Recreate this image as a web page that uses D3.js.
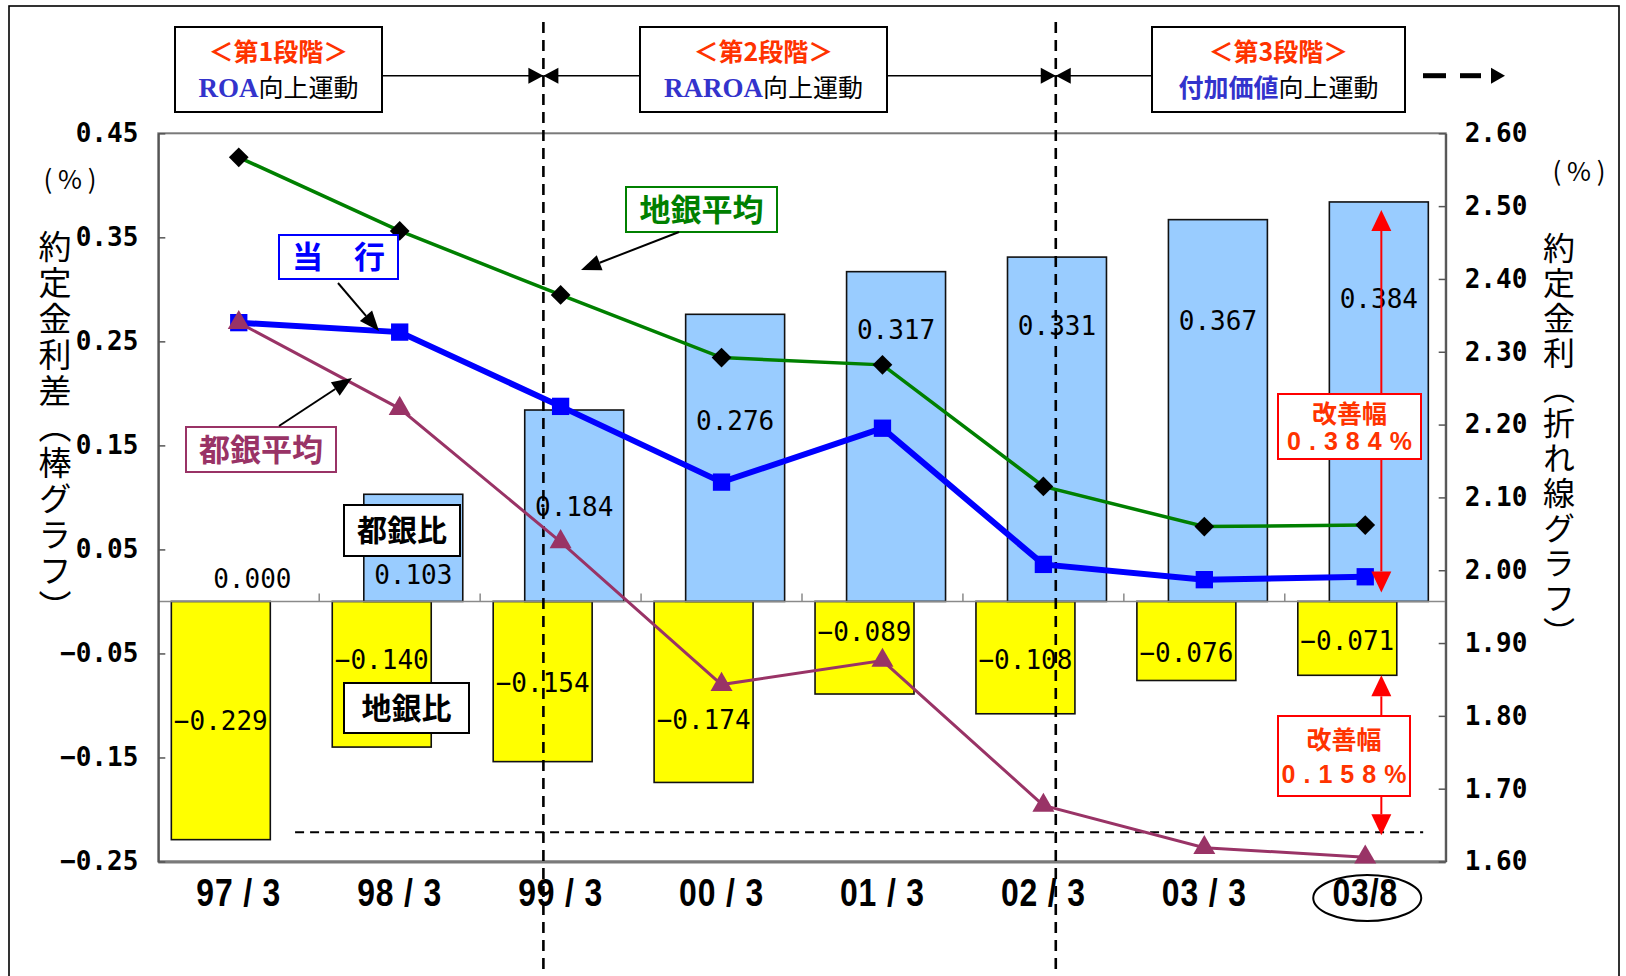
<!DOCTYPE html>
<html><head><meta charset="utf-8">
<script src="https://cdn.jsdelivr.net/npm/d3@7"></script>
<style>
html,body{margin:0;padding:0;background:#fff;}
svg{display:block;}
</style></head><body>
<svg id="chart" width="1626" height="976"></svg>
<script>
// Periods (fiscal year-end / month)
const categories = ["97 / 3","98 / 3","99 / 3","00 / 3","01 / 3","02 / 3","03 / 3","03/8"];
// Spread vs. city-bank average (都銀比) and regional-bank average (地銀比), %
const toginHi  = [0.000, 0.103, 0.184, 0.276, 0.317, 0.331, 0.367, 0.384];
const chiginHi = [-0.229, -0.140, -0.154, -0.174, -0.089, -0.108, -0.076, -0.071];
// Contract interest rates, %
const chiginAvg = [2.567, 2.466, 2.378, 2.292, 2.282, 2.115, 2.060, 2.062];
const touko     = [2.340, 2.327, 2.225, 2.121, 2.195, 2.008, 1.987, 1.991];
const toginAvg  = [2.340, 2.222, 2.039, 1.843, 1.876, 1.677, 1.619, 1.606];
// Axis ticks
const leftTicks  = [0.45, 0.35, 0.25, 0.15, 0.05, -0.05, -0.15, -0.25];
const rightTicks = [2.60, 2.50, 2.40, 2.30, 2.20, 2.10, 2.00, 1.90, 1.80, 1.70, 1.60];
// Where each bar's value label sits, on the left-axis scale
const toginLabelAt  = [0.022, 0.026, 0.091, 0.174, 0.261, 0.265, 0.270, 0.291];
const chiginLabelAt = [-0.115, -0.056, -0.078, -0.114, -0.029, -0.056, -0.049, -0.038];
// Stage headings
const stageTitles = ["＜第1段階＞", "＜第2段階＞", "＜第3段階＞"];
const stageKeys   = ["ROA", "RAROA", "付加価値"];
const stageTail   = "向上運動";

const CJK = "'Noto Sans CJK JP','Noto Sans CJK SC',sans-serif";
const MONO = "'DejaVu Sans Mono','Liberation Mono',monospace";
const NARROW = "'Liberation Sans Narrow','Arial Narrow','Liberation Sans',sans-serif";

const svg = d3.select("#chart");
svg.append("rect").attr("width", 1626).attr("height", 976).attr("fill", "#fff");
// outer frame
svg.append("rect").attr("x", 9).attr("y", 6).attr("width", 1610).attr("height", 1000)
  .attr("fill", "none").attr("stroke", "#000").attr("stroke-width", 1.6);

const plot = {left: 158.3, right: 1445.7, top: 133.3, bottom: 861.5};
const x = d3.scaleBand().domain(categories).range([plot.left, plot.right]).padding(0);
const bw = x.bandwidth();
const yL = d3.scaleLinear().domain([-0.25, 0.45]).range([plot.bottom, plot.top]);
const yR = d3.scaleLinear().domain([1.60, 2.60]).range([plot.bottom, plot.top]);
const cx = c => x(c) + bw / 2;

const barW = bw * 0.615;
const yellowOff = bw * 0.081, blueOff = bw * 0.277;

// plot border
svg.append("rect").attr("x", plot.left).attr("y", plot.top)
  .attr("width", plot.right - plot.left).attr("height", plot.bottom - plot.top)
  .attr("fill", "none").attr("stroke", "#7a7a7a").attr("stroke-width", 2);
svg.append("line").attr("x1", plot.left).attr("x2", plot.right)
  .attr("y1", plot.bottom + 0.5).attr("y2", plot.bottom + 0.5)
  .attr("stroke", "#7a7a7a").attr("stroke-width", 3);

// bars
const bars = svg.append("g");
bars.selectAll("rect.y").data(chiginHi).join("rect").attr("class", "y")
  .attr("x", (d, i) => x(categories[i]) + yellowOff)
  .attr("y", yL(0))
  .attr("width", barW)
  .attr("height", d => yL(d) - yL(0))
  .attr("fill", "#ffff00").attr("stroke", "#111").attr("stroke-width", 1.6);
bars.selectAll("rect.b").data(toginHi).join("rect").attr("class", "b")
  .attr("x", (d, i) => x(categories[i]) + blueOff)
  .attr("y", d => yL(d))
  .attr("width", barW)
  .attr("height", d => yL(0) - yL(d))
  .attr("fill", d => d > 0 ? "#99ccff" : "none")
  .attr("stroke", d => d > 0 ? "#111" : "none").attr("stroke-width", 1.6);

// zero line with category ticks
svg.append("line").attr("x1", plot.left).attr("x2", plot.right)
  .attr("y1", yL(0)).attr("y2", yL(0)).attr("stroke", "#8a8a8a").attr("stroke-width", 1.6);
svg.append("g").selectAll("line").data(categories.slice(1)).join("line")
  .attr("x1", d => x(d)).attr("x2", d => x(d))
  .attr("y1", yL(0)).attr("y2", yL(0) - 8)
  .attr("stroke", "#8a8a8a").attr("stroke-width", 1.5);

// left axis
const axL = svg.append("g").attr("transform", `translate(${plot.left},0)`)
  .call(d3.axisLeft(yL).tickValues(leftTicks).tickFormat(d3.format(".2f"))
    .tickSizeInner(-7).tickSizeOuter(0).tickPadding(20));
axL.select(".domain").attr("stroke", "#555").attr("stroke-width", 2);
axL.selectAll(".tick line").attr("stroke", "#555").attr("stroke-width", 1.5);
axL.selectAll(".tick text").attr("font-family", MONO).attr("font-weight", "bold")
  .attr("font-size", 26).attr("fill", "#000");

// right axis
const axR = svg.append("g").attr("transform", `translate(${plot.right},0)`)
  .call(d3.axisRight(yR).tickValues(rightTicks).tickFormat(d3.format(".2f"))
    .tickSizeInner(-7).tickSizeOuter(0).tickPadding(19));
axR.select(".domain").attr("stroke", "#555").attr("stroke-width", 2);
axR.selectAll(".tick line").attr("stroke", "#555").attr("stroke-width", 1.5);
axR.selectAll(".tick text").attr("font-family", MONO).attr("font-weight", "bold")
  .attr("font-size", 26).attr("fill", "#000");

// category labels (tall, condensed)
const axB = svg.append("g").attr("transform", `translate(0,${plot.bottom})`)
  .call(d3.axisBottom(x).tickSize(0).tickPadding(18));
axB.select(".domain").remove();
axB.selectAll(".tick text").attr("font-family", NARROW).attr("font-weight", "bold")
  .attr("font-size", 38).attr("letter-spacing", 1).attr("fill", "#000")
  .attr("transform", "scale(0.84,1)");
svg.append("ellipse").attr("cx", cx(categories[7]) + 2).attr("cy", 898)
  .attr("rx", 54).attr("ry", 23).attr("fill", "none").attr("stroke", "#000").attr("stroke-width", 2);

// bar value labels
svg.append("g").selectAll("text").data(toginHi).join("text")
  .attr("x", (d, i) => x(categories[i]) + blueOff + barW / 2)
  .attr("y", (d, i) => yL(toginLabelAt[i]))
  .attr("dy", "0.36em").attr("text-anchor", "middle")
  .attr("font-family", MONO).attr("font-size", 26).attr("fill", "#000")
  .text(d => d3.format(".3f")(d));
svg.append("g").selectAll("text").data(chiginHi).join("text")
  .attr("x", (d, i) => x(categories[i]) + yellowOff + barW / 2)
  .attr("y", (d, i) => yL(chiginLabelAt[i]))
  .attr("dy", "0.36em").attr("text-anchor", "middle")
  .attr("font-family", MONO).attr("font-size", 26).attr("fill", "#000")
  .text(d => d3.format(".3f")(d));

// bar legend boxes
function tagBox(x0, y0, w, h, text, color, size, fill) {
  svg.append("rect").attr("x", x0).attr("y", y0).attr("width", w).attr("height", h)
    .attr("fill", fill || "#fff").attr("stroke", color).attr("stroke-width", 2);
  svg.append("text").attr("x", x0 + w / 2).attr("y", y0 + h / 2).attr("dy", "0.36em")
    .attr("text-anchor", "middle").attr("font-family", CJK).attr("font-weight", "bold")
    .attr("font-size", size).attr("fill", color).text(text);
}
tagBox(344, 505, 116, 51, "都銀比", "#000", 30);
tagBox(344, 683, 125, 50, "地銀比", "#000", 30);

// stage dividers
const div1 = x(categories[2]) + bw * 0.393;
const div2 = x(categories[5]) + bw * 0.577;
svg.append("g").selectAll("line").data([div1, div2]).join("line")
  .attr("x1", d => d).attr("x2", d => d).attr("y1", 22).attr("y2", 976)
  .attr("stroke", "#000").attr("stroke-width", 2.6).attr("stroke-dasharray", "11,7");

// improvement reference (dashed) line
const refY = yL(-0.222);
svg.append("line").attr("x1", x(categories[0]) + bw * 0.85).attr("x2", x(categories[7]) + bw * 0.86)
  .attr("y1", refY).attr("y2", refY).attr("stroke", "#000").attr("stroke-width", 2)
  .attr("stroke-dasharray", "9,6");

// series lines
const line = d3.line().x((d, i) => cx(categories[i])).y(d => yR(d));
svg.append("path").datum(chiginAvg).attr("d", line).attr("fill", "none")
  .attr("stroke", "#008000").attr("stroke-width", 3.5);
svg.append("path").datum(toginAvg).attr("d", line).attr("fill", "none")
  .attr("stroke", "#993366").attr("stroke-width", 3);
svg.append("path").datum(touko).attr("d", line).attr("fill", "none")
  .attr("stroke", "#0000ff").attr("stroke-width", 6);

svg.append("g").selectAll("path").data(chiginAvg).join("path")
  .attr("d", d3.symbol(d3.symbolSquare, 195))
  .attr("transform", (d, i) => `translate(${cx(categories[i])},${yR(d)}) rotate(45)`)
  .attr("fill", "#000");
svg.append("g").selectAll("path").data(touko).join("path")
  .attr("d", d3.symbol(d3.symbolSquare, 300))
  .attr("transform", (d, i) => `translate(${cx(categories[i])},${yR(d)})`)
  .attr("fill", "#0000ff");
svg.append("g").selectAll("path").data(toginAvg).join("path")
  .attr("d", d3.symbol(d3.symbolTriangle, 210))
  .attr("transform", (d, i) => `translate(${cx(categories[i])},${yR(d)})`)
  .attr("fill", "#993366");

// arrow helper: line with a filled head at (x2,y2)
function arrow(x1, y1, x2, y2, color, len, wid, sw) {
  const a = Math.atan2(y2 - y1, x2 - x1);
  const bx = x2 - len * Math.cos(a), by = y2 - len * Math.sin(a);
  svg.append("line").attr("x1", x1).attr("y1", y1).attr("x2", bx).attr("y2", by)
    .attr("stroke", color).attr("stroke-width", sw);
  const px = Math.sin(a) * wid / 2, py = -Math.cos(a) * wid / 2;
  svg.append("path").attr("d", `M${x2},${y2}L${bx + px},${by + py}L${bx - px},${by - py}Z`)
    .attr("fill", color);
}

// series legend labels
tagBox(626, 187, 151, 45, "地銀平均", "#008000", 31);
arrow(679, 232, 581, 270, "#000", 20, 16, 2);
tagBox(279, 235, 119, 44, "当　行", "#0000ff", 31);
arrow(338, 283, 379, 331, "#000", 20, 16, 2);
tagBox(186, 427, 150, 45, "都銀平均", "#993366", 31);
arrow(279, 426, 352, 378, "#000", 20, 16, 2);

// improvement annotations
const ax = x(categories[7]) + bw * 0.6;
const RED = "#ff0000", ORANGE = "#ff3300";
function arrowLine(y1, y2) {
  arrow(ax, (y1 + y2) / 2, ax, y1, RED, 21, 20, 2);
  arrow(ax, (y1 + y2) / 2, ax, y2, RED, 21, 20, 2);
}
arrowLine(yL(toginHi[7]) + 8, yL(0) - 9);
arrowLine(yL(chiginHi[7]), refY + 3);
function noteBox(x0, y0, w, h, amount) {
  svg.append("rect").attr("x", x0).attr("y", y0).attr("width", w).attr("height", h)
    .attr("fill", "#fff").attr("stroke", RED).attr("stroke-width", 2);
  svg.append("text").attr("x", x0 + w / 2).attr("y", y0 + h * 0.3).attr("dy", "0.36em")
    .attr("text-anchor", "middle").attr("font-family", CJK).attr("font-weight", "bold")
    .attr("font-size", 25).attr("fill", ORANGE).text("改善幅");
  svg.append("text").attr("x", x0 + w / 2 + 4).attr("y", y0 + h * 0.73).attr("dy", "0.36em")
    .attr("text-anchor", "middle").attr("font-family", NARROW).attr("font-weight", "bold")
    .attr("font-size", 25).attr("letter-spacing", 8).attr("fill", ORANGE)
    .text(d3.format(".3f")(amount) + "%");
}
noteBox(1278, 394, 143, 65, toginHi[7] - toginHi[0]);
noteBox(1278, 716, 132, 80, chiginHi[7] - chiginHi[0]);

// stage headings along the top
const stageBoxes = [[175, 382], [640, 887], [1152, 1405]];
const connY = 75.7;
stageBoxes.forEach(([a, b], i) => {
  svg.append("rect").attr("x", a).attr("y", 27).attr("width", b - a).attr("height", 85)
    .attr("fill", "#fff").attr("stroke", "#000").attr("stroke-width", 2);
  const mid = (a + b) / 2;
  svg.append("text").attr("x", mid).attr("y", 52).attr("dy", "0.36em").attr("text-anchor", "middle")
    .attr("font-family", CJK).attr("font-weight", "bold").attr("font-size", 25)
    .attr("fill", ORANGE).text(stageTitles[i]);
  const t = svg.append("text").attr("x", mid).attr("y", 88).attr("dy", "0.36em")
    .attr("text-anchor", "middle").attr("font-size", 25);
  if (i < 2) {
    t.append("tspan").attr("font-family", "'Liberation Serif','Times New Roman',serif")
      .attr("font-weight", "bold").attr("font-size", 27).attr("fill", "#3333cc").text(stageKeys[i]);
  } else {
    t.append("tspan").attr("font-family", CJK).attr("font-weight", "bold")
      .attr("fill", "#3333cc").text(stageKeys[i]);
  }
  t.append("tspan").attr("font-family", CJK).attr("fill", "#000").text(stageTail);
});
// connectors between stages
[[382, div1], [div1, 640], [887, div2], [div2, 1152]].forEach(([a, b]) => {
  svg.append("line").attr("x1", a).attr("x2", b).attr("y1", connY).attr("y2", connY)
    .attr("stroke", "#000").attr("stroke-width", 1.6);
});
[div1, div2].forEach(d => {
  svg.append("path").attr("d", `M${d},${connY}L${d - 15},${connY - 8}L${d - 15},${connY + 8}Z`).attr("fill", "#000");
  svg.append("path").attr("d", `M${d},${connY}L${d + 15},${connY - 8}L${d + 15},${connY + 8}Z`).attr("fill", "#000");
});
// continuation marker after stage 3
svg.append("rect").attr("x", 1423).attr("y", connY - 2.5).attr("width", 23).attr("height", 5).attr("fill", "#000");
svg.append("rect").attr("x", 1460).attr("y", connY - 2.5).attr("width", 21).attr("height", 5).attr("fill", "#000");
svg.append("path").attr("d", `M${1505},${connY}L${1491},${connY - 8}L${1491},${connY + 8}Z`).attr("fill", "#000");

// vertical axis titles (native vertical writing)
function verticalTitle(xc, yTop, text, size, spacing) {
  svg.append("text").attr("x", xc).attr("y", yTop)
    .attr("style", "writing-mode: vertical-rl; text-orientation: mixed;")
    .attr("font-family", CJK).attr("font-size", size).attr("fill", "#000")
    .attr("letter-spacing", spacing).text(text);
}
verticalTitle(55, 230, "約定金利差（棒グラフ）", 33, 3);
verticalTitle(1559, 232, "約定金利（折れ線グラフ）", 32, 3);

// unit marks
svg.append("text").attr("x", 70).attr("y", 180).attr("dy", "0.36em").attr("text-anchor", "middle")
  .attr("font-family", CJK).attr("font-size", 26).attr("xml:space", "preserve").text("( % )");
svg.append("text").attr("x", 1579).attr("y", 172).attr("dy", "0.36em").attr("text-anchor", "middle")
  .attr("font-family", CJK).attr("font-size", 26).attr("xml:space", "preserve").text("( % )");
</script>
</body></html>
